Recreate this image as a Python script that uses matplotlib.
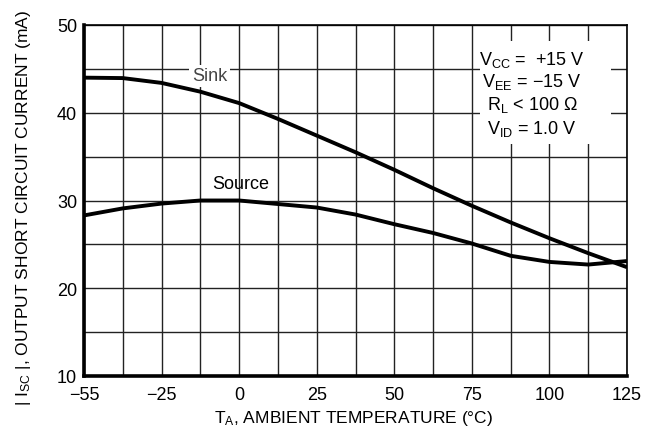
import numpy as np
import matplotlib
matplotlib.use("Agg")
import matplotlib.pyplot as plt
from matplotlib.patches import Rectangle

# ---- data ----
temp_ticks = [-55, -25, 0, 25, 50, 75, 100, 125]
temp_grid = [-55, -40, -25, -12.5, 0, 12.5, 25, 37.5, 50, 62.5, 75, 87.5, 100, 112.5, 125]
current_ticks = [10, 20, 30, 40, 50]
current_grid = [10, 15, 20, 25, 30, 35, 40, 45, 50]

sink_temp = [-55, -40, -25, -12.5, 0, 12.5, 25, 37.5, 50, 62.5, 75, 87.5, 100, 112.5, 125]
sink_current = [44.0, 43.95, 43.4, 42.4, 41.1, 39.3, 37.4, 35.5, 33.5, 31.4, 29.4, 27.5, 25.7, 24.0, 22.4]

source_temp = [-55, -40, -25, -12.5, 0, 12.5, 25, 37.5, 50, 62.5, 75, 87.5, 100, 112.5, 125]
source_current = [28.3, 29.1, 29.65, 30.0, 30.0, 29.6, 29.2, 28.4, 27.3, 26.3, 25.1, 23.7, 23.0, 22.7, 23.1]

cond_lines = [r"V$_{\mathrm{CC}}$ =  +15 V",
              r"V$_{\mathrm{EE}}$ = −15 V",
              r"R$_{\mathrm{L}}$ < 100 Ω",
              r"V$_{\mathrm{ID}}$ = 1.0 V"]

FONT = ['Liberation Sans', 'DejaVu Sans']
plt.rcParams['font.family'] = FONT
plt.rcParams['mathtext.fontset'] = 'custom'
plt.rcParams['mathtext.rm'] = 'Liberation Sans'
plt.rcParams['mathtext.it'] = 'Liberation Sans:italic'
plt.rcParams['mathtext.bf'] = 'Liberation Sans:bold'
plt.rcParams['axes.unicode_minus'] = True

# datasheet axis: tick labels equally spaced (non-linear temperature)
tpos = np.arange(len(temp_ticks), dtype=float)
tt = np.array(temp_ticks, dtype=float)

def fwd(t):
    t = np.asarray(t, dtype=float)
    out = np.interp(t, tt, tpos)
    lo = t < tt[0]
    hi = t > tt[-1]
    out = np.where(lo, (t - tt[0]) / (tt[1] - tt[0]) * (tpos[1] - tpos[0]) + tpos[0], out)
    out = np.where(hi, (t - tt[-1]) / (tt[-1] - tt[-2]) * (tpos[-1] - tpos[-2]) + tpos[-1], out)
    return out

def inv(p):
    p = np.asarray(p, dtype=float)
    out = np.interp(p, tpos, tt)
    lo = p < tpos[0]
    hi = p > tpos[-1]
    out = np.where(lo, (p - tpos[0]) * (tt[1] - tt[0]) + tt[0], out)
    out = np.where(hi, (p - tpos[-1]) * (tt[-1] - tt[-2]) + tt[-1], out)
    return out

W, H = 654, 439
fig = plt.figure(figsize=(W / 100, H / 100), dpi=100)
ax = fig.add_axes([84 / W, 1 - 377 / H, (627 - 84) / W, (377 - 26) / H])
ax.set_xscale('function', functions=(fwd, inv))
ax.set_xlim(-55, 125)
ax.set_ylim(10, 50)

ax.set_xticks(temp_ticks)
ax.set_xticklabels([("−" + str(-t)) if t < 0 else str(t) for t in temp_ticks])
ax.set_xticks(temp_grid, minor=True)
ax.set_yticks(current_ticks)
ax.set_yticks(current_grid, minor=True)
ax.tick_params(which='both', length=0, labelsize=13, colors='black')
ax.tick_params(axis='x', pad=7)
ax.tick_params(axis='y', pad=5)

ax.grid(True, which='both', color='#222222', linewidth=1.0)
ax.set_axisbelow(True)

for side in ['left', 'bottom']:
    ax.spines[side].set_linewidth(2.6)
for side in ['top', 'right']:
    ax.spines[side].set_linewidth(1.2)

ax.plot(sink_temp, sink_current, color='black', linewidth=2.8, solid_capstyle='butt', zorder=3)
ax.plot(source_temp, source_current, color='black', linewidth=2.8, solid_capstyle='butt', zorder=3)

ax.text(-9.5, 44.2, "Sink", fontsize=13, ha='center', va='center', color='#444444',
        bbox=dict(facecolor='white', edgecolor='none', pad=2), zorder=2.5)
ax.text(0.5, 31.9, "Source", fontsize=13, ha='center', va='center', color='black', zorder=4)

ax.add_patch(Rectangle((0.729, 0.661), 0.2415, 0.293, transform=ax.transAxes,
                       facecolor='white', edgecolor='none', zorder=2))
ys = [0.889, 0.826, 0.761, 0.692]
for s, y in zip(cond_lines, ys):
    ax.text(0.825, y, s, transform=ax.transAxes, fontsize=13, ha='center',
            va='baseline', zorder=4)

fig.text(354 / W, 1 - 419 / H, r"T$_{\mathrm{A}}$, AMBIENT TEMPERATURE (°C)", fontsize=12.5,
         ha='center', va='center')
fig.text(24 / W, 1 - 208 / H, r"| I$_{\mathrm{SC}}$ |, OUTPUT SHORT CIRCUIT CURRENT (mA)",
         fontsize=12.5, ha='center', va='center', rotation=90)

fig.savefig("out.png", dpi=100)
